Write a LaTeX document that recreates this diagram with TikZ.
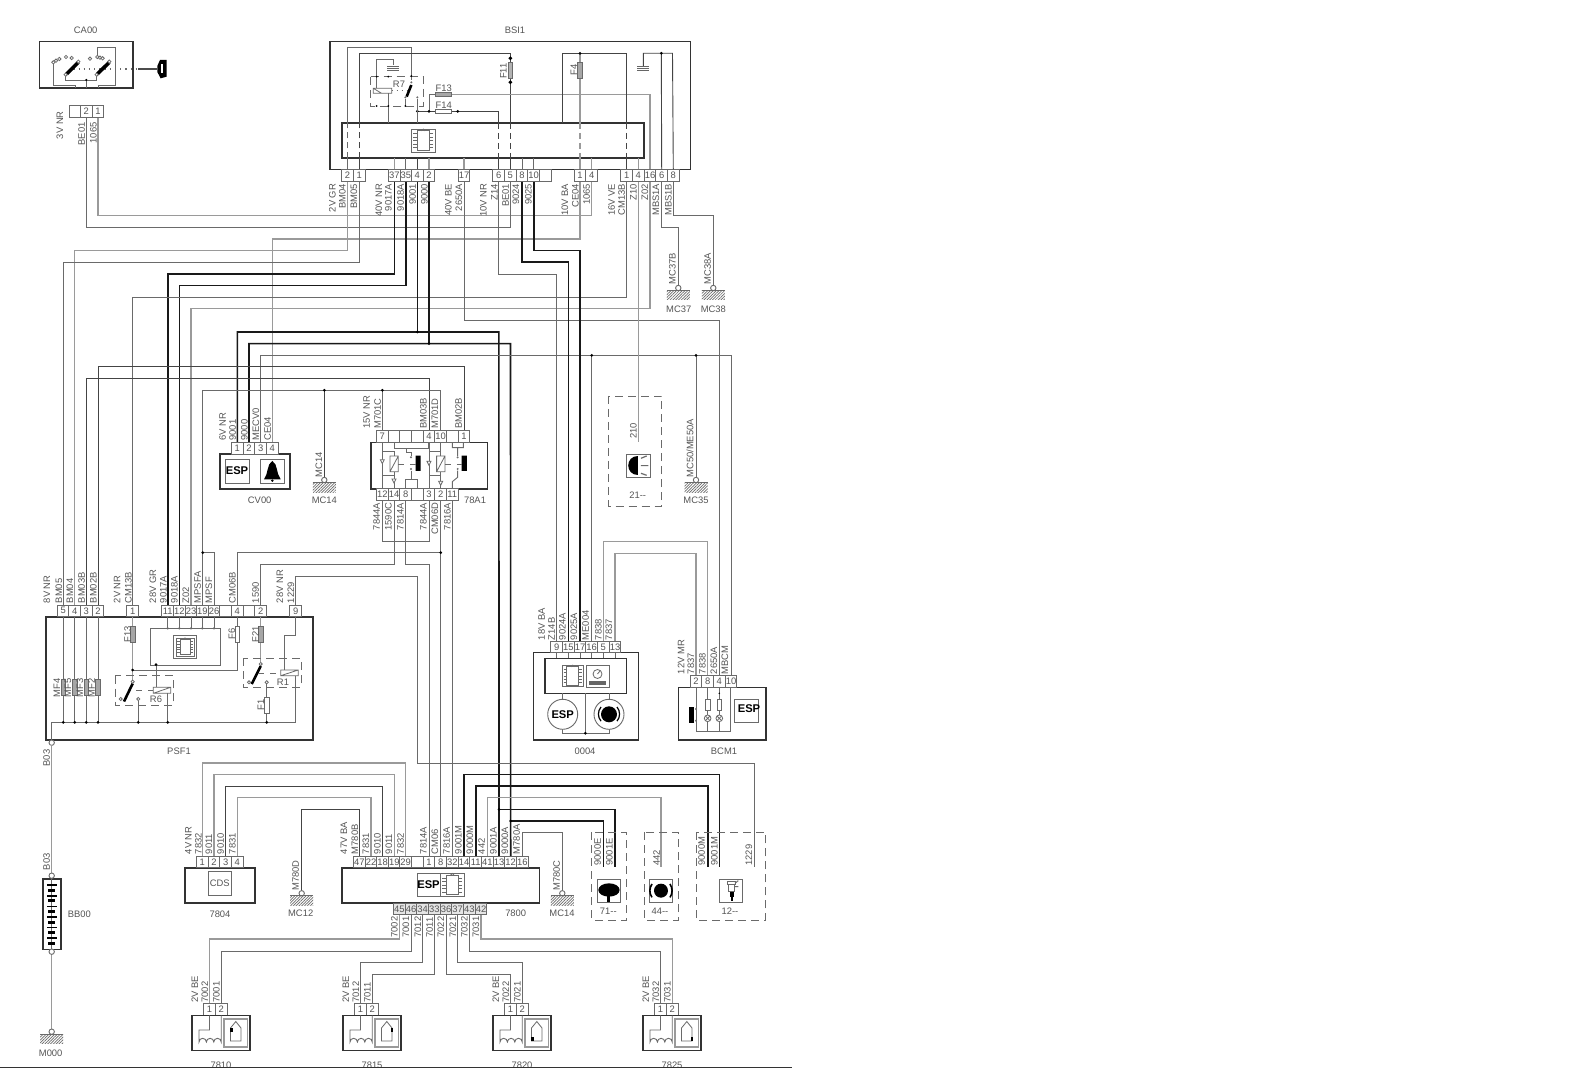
\documentclass[tikz,border=0pt]{standalone}
\usepackage{fontspec}
\setmainfont{Liberation Sans}
\usetikzlibrary{patterns.meta}
\definecolor{ink}{HTML}{555555}
\definecolor{wl}{HTML}{9A9A9A}
\definecolor{wm}{HTML}{6A6A6A}
\definecolor{wn}{HTML}{444444}
\definecolor{boxc}{HTML}{333333}
\newcount\labn
\tikzset{
 txt/.style={font=\fontsize{4.7}{5}\selectfont,text=ink,inner sep=0pt},
 pin/.style={draw=wm,line width=.4pt,fill=white,minimum width=5.83pt,minimum height=5.8pt,inner sep=0pt,font=\fontsize{4.7}{5}\selectfont,text=ink},
 pinb/.style={pin,fill=black!10},
 wg/.style={draw=wl,line width=.6pt},
 wd/.style={draw=wm,line width=.45pt},
 wn/.style={draw=wn,line width=.45pt},
 wk/.style={draw=black!90,line width=.8pt},
 comp/.style={draw=wm,line width=.4pt},
 boxs/.style={draw=boxc,line width=.8pt},
 dashb/.style={draw=wm,line width=.45pt,dash pattern=on 4pt off 2.5pt},
 hid/.style={dash pattern=on 3pt off 2pt},
 fuse/.style={draw=wm,line width=.4pt,fill=black!35},
}
\newcommand\lb[3]{\global\advance\labn by 1 \node[txt,rotate=90,anchor=west] (lab\the\labn) at (#1,#2) {#3};}
\newcommand\lt[3]{\global\advance\labn by 1 \node[txt,rotate=90,anchor=east] (lab\the\labn) at (#1,#2) {#3};}
\newcommand\lh[3]{\global\advance\labn by 1 \node[txt] (lab\the\labn) at (#1,#2) {#3};}
\newcommand\pinrow[2]{\foreach \n/\x/\t in {#2} {\node[pin] (\n) at (\x,#1) {\t};}}
\newcommand\pinrowb[2]{\foreach \n/\x/\t in {#2} {\node[pinb] (\n) at (\x,#1) {\t};}}
\newcommand\jn[1]{\foreach \a/\b in {#1} {\fill[black] (\a,\b) circle (1.5);}}
\newcommand\gnd[2]{\draw[wd,fill=white] (#1,#2) circle (2.7);
 \fill[pattern={Lines[angle=45,distance=1pt,line width=.35pt]},pattern color=wm] (#1-11.5,#2+2.5) rectangle (#1+11.5,#2+12);
 \draw[wm,line width=.5pt] (#1-11.5,#2+2.5) -- (#1+11.5,#2+2.5);}
\newcommand\minignd[1]{\fill[black!60] (#1-6,66) rectangle (#1+6,72.5);
 \foreach \k in {67.5,69.5,71.5} {\draw[white,line width=.25pt] (#1-6,\k) -- (#1+6,\k);}}
\newcommand\chipicon[3]{\begin{scope}[shift={(#1,#2)}]
 \draw[comp] (-#3,-#3) rectangle (#3,#3);
 \draw[comp] (-.55*#3,-.85*#3) rectangle (.55*#3,.85*#3);
 \foreach \k in {-.6,-.3,0,.3,.6} {\draw[comp,line width=.3pt] (-.85*#3,\k*#3) -- (-.55*#3,\k*#3) (.85*#3,\k*#3) -- (.55*#3,\k*#3);}
 \draw[comp] (-.15*#3,-.85*#3) arc[start angle=180,end angle=360,radius=.15*#3];
\end{scope}}
\newcommand\esp[2]{\global\advance\labn by 1 \node[inner sep=0pt,font=\fontsize{5.6}{6}\selectfont\bfseries,text=black] (lab\the\labn) at (#1,#2) {ESP};}
\newcommand\coilrect[4]{\draw[comp] (#1,#2) rectangle (#3,#4) (#1,#4) -- (#3,#2);}
\newcommand\ctc[2]{\draw[wd,fill=white,line width=.4pt] (#1,#2) circle (1.6);}
\newcommand\wheel[3]{\begin{scope}[shift={(#1,0)}]
 \draw[boxs,line width=.7pt] (0,1015.3) rectangle (58,1050.5);
 \draw[wl,line width=.8pt] (32,1018.7) rectangle (55.5,1047);
 \draw[comp] (38.5,1041) -- (38.5,1028) -- (43.8,1021.5) -- (49,1028) -- (49,1041) -- cycle;
 \fill[black] (#2,#3) rectangle (#2+2.5,#3+4);
 \draw[wd] (17.5,1015.3) -- (17.5,1030) -- (7,1030) -- (7,1042) arc[start angle=180,end angle=360,radius=3.7] arc[start angle=180,end angle=360,radius=3.7] arc[start angle=180,end angle=360,radius=3.7] -- (29.2,1015.3);
\end{scope}}
\begin{document}
\begin{tikzpicture}[x=.5pt,y=-.5pt]
\useasboundingbox (0,0) rectangle (1574,1069);
\fill[white] (0,0) rectangle (1574,1069);
% ---------- component boxes
\node[boxs,minimum width=46.7pt,minimum height=23.2pt,inner sep=0pt] (CAbox) at (86.25,64.9) {};
\node[boxs,minimum width=180.3pt,minimum height=64pt,inner sep=0pt] (BSIbox) at (510.35,105.7) {};
\node[boxs,minimum width=151pt,minimum height=17.65pt,inner sep=0pt] (BSIin) at (492.7,140.65) {};
\node[boxs,minimum width=133.65pt,minimum height=61.65pt,inner sep=0pt] (PSFbox) at (179.35,678.35) {};
\node[boxs,minimum width=35.15pt,minimum height=17.5pt,inner sep=0pt] (CVbox) at (254.85,471.5) {};
\node[boxs,minimum width=58.15pt,minimum height=23.15pt,inner sep=0pt] (RLbox) at (429.15,465.85) {};
\node[boxs,minimum width=52.5pt,minimum height=43.85pt,inner sep=0pt] (OBbox) at (585.8,696.15) {};
\node[boxs,minimum width=43.7pt,minimum height=26.35pt,inner sep=0pt] (BCbox) at (722,713.65) {};
\node[boxs,minimum width=34.85pt,minimum height=17.5pt,inner sep=0pt] (CDbox) at (219.85,885.2) {};
\node[boxs,minimum width=98.8pt,minimum height=17.5pt,inner sep=0pt] (ESPbox) at (440.5,885.2) {};
\node[boxs,minimum width=9pt,minimum height=35.15pt,inner sep=0pt] (BBbox) at (51.7,914.15) {};
% ---------- pins
\pinrow{111.4}{ca3/75/{},ca2/86.3/2,ca1/98/1}
\pinrow{175.7}{bA2/347.5/2,bA1/359.2/1,bB37/394.3/37,bB35/405.8/35,bB4/417.3/4,bB2/429/2,bC17/464/17,bD6/498.7/6,bD5/510.3/5,bD8/522/8,bD10/533.7/10,bDx/545.3/{},bE1/580/1,bE4/591.7/4,bF1/626.7/1,bF4/638.3/4,bF16/650/16,bF6/661.7/6,bF8/673.3/8}
\pinrow{610.8}{pA5/63.3/5,pA4/74.7/4,pA3/86.3/3,pA2/98/2,pB1/132.7/1,pC11/167.7/11,pC12/179.3/12,pC23/191/23,pC19/202.3/19,pC26/214/26,pCx/225.7/{},pC4/237.3/4,pCy/249/{},pC2/260.7/2,pD9/295.7/9}
\pinrow{448.2}{cv1/237.3/1,cv2/249/2,cv3/260.7/3,cv4/272.3/4}
\pinrow{436.7}{t7/382.3/7,ta/394/{},tb/405.7/{},tc/417.3/{},t4/429/4,t10/440.7/10,td/452.3/{},t1/464/1}
\pinrow{494.6}{u12/382.3/12,u14/394/14,u8/405.7/8,ux/417.3/{},u3/429/3,u2/440.7/2,u11/452.3/11}
\pinrow{647}{o9/556.7/9,o15/568.3/15,o17/580/17,o16/591.7/16,o5/603.3/5,o13/615/13}
\pinrow{681.5}{b2/696/2,b8/707.7/8,b4/719.3/4,b10/731/10}
\pinrow{862}{c1/202.3/1,c2/214/2,c3/225.7/3,c4/237.3/4}
\pinrow{862}{e47/359.3/47,e22/371/22,e18/382.7/18,e19/394.3/19,e29/405.7/29,ey/417.3/{},e1/429/1,e8/440.7/8,e32/452.3/32,e14/464/14,e11/475.7/11,e41/487.3/41,e13/499/13,e12/510.7/12,e16/522.3/16}
\pinrowb{909}{f45/399.3/45,f46/411/46,f34/422.7/34,f33/434.3/33,f36/446/36,f37/457.7/37,f43/469.3/43,f42/481/42}
\pinrow{1009.5}{sa1/209.5/1,sa2/221.2/2,sb1/360.5/1,sb2/372.2/2,sc1/510.5/1,sc2/522.2/2,sd1/660.5/1,sd2/672.2/2}
% ---------- free-end coordinates
\coordinate (g37) at (678.3,288); \coordinate (g38) at (713.3,288);
\coordinate (g35) at (696,480); \coordinate (g14a) at (324.3,480);
\coordinate (g12) at (301.7,893.3); \coordinate (g14b) at (562.3,893.3);
% ---------- wires BSI to the rest
\draw[wg] (ca1.south) -- (98,215.5) -- (591.7,215.5) -- (bE4.south);
\draw[wd] (ca2.south) -- (86.3,227) -- (510.3,227) -- (bD5.south);
\draw[wg] (bE1.south) -- (580,239) -- (272.3,239) -- (cv4.north);
\draw[wg] (bA2.south) -- (347.5,250.7) -- (74.7,250.7) -- (pA4.north);
\draw[wd] (bA1.south) -- (359.2,262) -- (63.3,262) -- (pA5.north);
\draw[wk] (bB37.south) -- (394.3,274) -- (167.7,274) -- (pC11.north);
\draw[wk] (bB35.south) -- (405.8,285.7) -- (179.3,285.7) -- (pC12.north);
\draw[wd] (bF1.south) -- (626.7,297.3) -- (132.7,297.3) -- (pB1.north);
\draw[wg] (bF16.south) -- (650,308.7) -- (191,308.7) -- (pC23.north);
\draw[wd] (bC17.south) -- (464,320.3) -- (719.3,320.3) -- (b4.north);
\draw[wk] (cv1.north) -- (237.3,332) -- (498.9,332) -- (e13.north);
\draw[wk] (cv2.north) -- (249,343.7) -- (510.5,343.7) -- (e12.north);
\draw[wk] (bB4.south) -- (417.3,332);
\draw[wk] (bB2.south) -- (429,343.7);
\draw[wd] (cv3.north) -- (260.7,355.3) -- (731,355.3) -- (b10.north);
\draw[wd] (o16.north) -- (591.7,355.3);
\draw[wd] (g35) -- (696,355.3);
\draw[wn] (pA2.north) -- (98,366.7) -- (464,366.7) -- (t1.north);
\draw[wn] (pA3.north) -- (86.3,378.3) -- (429,378.3) -- (t4.north);
\draw[wd] (pC19.north) -- (202.3,390.3) -- (440.7,390.3) -- (t10.north);
\draw[wd] (t7.north) -- (382.3,390.3);
\draw[wn] (g14a) -- (324.3,390.3);
\draw[wd] (202.3,552.7) -- (214,552.7) -- (pC26.north);
\draw[wd] (pC4.north) -- (237.3,552.7) -- (440.7,552.7);
\draw[wd] (u2.south) -- (e8.north);
\draw[wd] (pC2.north) -- (260.7,564.3) -- (394,564.3) -- (u14.south);
\draw[wd] (u8.south) -- (405.7,564.3) -- (429,564.3) -- (e1.north);
\draw[wd] (u12.south) -- (382.3,541.7) -- (429,541.7) -- (u3.south);
\draw[wd] (u11.south) -- (e32.north);
\draw[wd] (pD9.north) -- (295.7,576.5) -- (417.5,576.5) -- (417.5,763) -- (754,763) -- (754,866.7);
\draw[wd] (bD6.south) -- (498.7,274) -- (556.7,274) -- (o9.north);
\draw[wk] (bD8.south) -- (522,262.3) -- (568.3,262.3) -- (o15.north);
\draw[wk] (bD10.south) -- (533.7,250.7) -- (580,250.7) -- (o17.north);
\draw[wg] (o5.north) -- (603.3,541.7) -- (707.7,541.7) -- (b8.north);
\draw[wg] (o13.north) -- (615,553.3) -- (696,553.3) -- (b2.north);
\draw[wd] (bF6.south) -- (661.7,227.3) -- (678.3,227.3) -- (g37);
\draw[wd] (bF8.south) -- (673.3,215.7) -- (713.3,215.7) -- (g38);
\draw[wg] (bF4.south) -- (638.3,441.7);
\draw[wg] (bF4.north) -- (638.3,158.3);
% ---------- wires 7800 / 7804
\draw[wn] (e47.north) -- (359.3,809.3) -- (301.7,809.3) -- (g12);
\draw[wg] (e22.north) -- (371,797.7) -- (237.3,797.7) -- (c4.north);
\draw[wn] (e18.north) -- (382.7,786) -- (225.7,786) -- (c3.north);
\draw[wg] (e19.north) -- (394.3,774.7) -- (214,774.7) -- (c2.north);
\draw[wg] (e29.north) -- (405.7,763) -- (202.3,763) -- (c1.north);
\draw[wk] (e14.north) -- (464,774.3) -- (719.3,774.3) -- (719.3,867);
\draw[wk] (e11.north) -- (475.7,786) -- (707.7,786) -- (707.7,867);
\draw[wg] (e41.north) -- (487.3,797.7) -- (661,797.7) -- (661,866.7);
\draw[wk,line width=.7pt] (499,809.3) -- (615,809.3) -- (615,866.7);
\draw[wk,line width=.7pt] (510.5,821) -- (603.3,821) -- (603.3,866.7);
\draw[wd] (e16.north) -- (522.3,832.3) -- (562.3,832.3) -- (g14b);
\draw[wg] (f45.south) -- (399.3,939) -- (209.5,939) -- (sa1.north);
\draw[wd] (f46.south) -- (411,951) -- (221.2,951) -- (sa2.north);
\draw[wd] (f34.south) -- (422.7,962.7) -- (360.5,962.7) -- (sb1.north);
\draw[wd] (f33.south) -- (434.3,974.5) -- (372.2,974.5) -- (sb2.north);
\draw[wd] (f36.south) -- (446,974.5) -- (510.5,974.5) -- (sc1.north);
\draw[wd] (f37.south) -- (457.7,962.7) -- (522.2,962.7) -- (sc2.north);
\draw[wd] (f43.south) -- (469.3,951) -- (660.5,951) -- (sd1.north);
\draw[wg] (f42.south) -- (481,939) -- (672.2,939) -- (sd2.north);
\jn{417.3/332,429/343.7,591.7/355.3,696/355.3,324.3/390.3,382.3/390.3,202.7/552.7,440.7/552.7,499/809.3,510.5/821}
% ---------- grounds
\gnd{678.3}{288} \gnd{713.3}{288} \gnd{696}{480} \gnd{324.3}{480} \gnd{301.7}{893.3} \gnd{562.3}{893.3}
% ---------- CA00
\begin{scope}[shift={(20,10)},scale=.3333]
\draw[wd] (165,235) -- (165,225) -- (100,225) -- (100,160);
\draw[wd] (199,235) -- (199,210);
\draw[wd] (137,195) -- (137,210) -- (230,210) -- (230,195);
\draw[wd] (234,235) -- (234,225) -- (287,225) -- (287,112) -- (233,112) -- (233,135);
\draw[wm,line width=.6pt,dotted] (160,177) -- (350,177);
\draw[black,line width=1.8pt] (140,192) -- (175,157);
\draw[black,line width=1.8pt] (232,192) -- (268,157);
\foreach \a/\b in {100/157,108/152,118/147,138/141,155/144,210/146,232/141,240/143,248/145,137/194,175/155,230/194,268/155} {\draw[wd,fill=white,line width=.4pt] (\a,\b) circle (5);}
\fill[black] (199,210) circle (3.5);
\draw[black!70,line width=1.3pt] (355,177) -- (410,177);
\fill[black] (412,168) -- (420,150) -- (440,150) -- (440,200) -- (422,205) -- (412,186) -- cycle;
\fill[white] (422,162) rectangle (430,190);
\end{scope}
% ---------- BSI internals
\draw[wd] (bA2.north) -- (347.5,158.3);
\draw[wd,hid] (347.5,158.3) -- (347.5,123);
\draw[wd] (347.5,123) -- (347.5,47.5) -- (411.3,47.5) -- (411.3,80);
\draw[wn] (bA1.north) -- (359.2,158.3);
\draw[wn,hid] (359.2,158.3) -- (359.2,123);
\draw[wn] (359.2,123) -- (359.2,53.3) -- (510.3,53.3) -- (510.3,62.7);
\draw[wn] (510.3,78.3) -- (510.3,123);
\draw[wn,hid] (510.3,123) -- (510.3,158.3);
\draw[wn] (510.3,158.3) -- (bD5.north);
\draw[wn] (417.3,111.3) -- (498.7,111.3) -- (498.7,123);
\draw[wn,hid] (498.7,123) -- (498.7,158.3);
\draw[wn] (498.7,158.3) -- (bD6.north);
\draw[wd] (429,111.3) -- (429,94.4) -- (435.7,94.4);
\draw[wg] (451.7,94.4) -- (650,94.4) -- (bF16.north);
\draw[wn] (562.7,123) -- (562.7,53.3) -- (626.7,53.3) -- (626.7,123);
\draw[wn,hid] (626.7,123) -- (626.7,158.3);
\draw[wn] (626.7,158.3) -- (bF1.north);
\draw[wg] (580,53.3) -- (580,123);
\draw[wg,hid] (580,123) -- (580,158.3);
\draw[wg] (580,158.3) -- (bE1.north);
\draw[wn] (643.3,66) -- (643.3,53.3) -- (672.5,53.3) -- (bF8.north);
\draw[wn] (661.3,53.3) -- (bF6.north);
\draw[wg] (bB37.north) -- (394.3,158.3);
\draw[wd] (bB35.north) -- (405.8,158.3);
\draw[wn] (bB4.north) -- (417.3,158.3);
\draw[wg] (bB2.north) -- (429,158.3);
\draw[wg] (bC17.north) -- (464,158.3);
\draw[wd] (bD8.north) -- (522,158.3);
\draw[wd] (bD10.north) -- (533.7,158.3);
\draw[wg] (bE4.north) -- (591.7,158.3);
\draw[fuse,fill=black!30] (508.3,62.7) rectangle (512.3,78.3);
\draw[fuse] (577.7,62.7) rectangle (582.3,78.3);
\draw[fuse] (435.7,92.7) rectangle (451.7,96.7);
\draw[fuse,fill=white] (435.7,109.3) rectangle (451.7,113.3);
\fill[black] (510.3,56.3) -- (512.3,58.3) -- (510.3,60.3) -- (508.3,58.3) -- cycle (510.3,80.3) -- (512.3,82.3) -- (510.3,84.3) -- (508.3,82.3) -- cycle;
\jn{580/53.3,661.3/53.3,417.3/111.3,429/111.3,457.7/111.3}
\minignd{643.3} \minignd{393.3}
\begin{scope}[shift={(340,30)},scale=.3333]
\draw[dashb] (92,140) -- (250,140) -- (250,228) -- (92,228) -- cycle;
\draw[wd] (110,175) -- (110,88) -- (160,88) -- (160,105);
\draw[comp] (100,175) rectangle (155,190) (100,175) -- (125,190);
\draw[wd] (145,190) -- (145,278);
\draw[wm,dotted,line width=.5pt] (155,183) -- (208,183);
\draw[wd] (196,207) -- (196,228);
\draw[wd] (232,207) -- (232,278);
\draw[black,line width=1.3pt] (214,165) -- (200,200);
\ctc{214}{157} \ctc{196}{202} \ctc{232}{202}
\foreach \a/\b in {110/140,145/140,214/138,110/228,145/228,196/228} {\fill[black] (\a,\b) circle (3);}
\end{scope}
\chipicon{423.3}{140.7}{11.6}
% ---------- CV00
\draw[comp] (225,459) rectangle (249,483);
\draw[comp] (260,459) rectangle (284,483);
\esp{237}{471}
\begin{scope}[shift={(190,360)},scale=.3333]
\fill[black] (247,303) .. controls (230,312) and (236,340) .. (222,358) -- (272,358) .. controls (258,340) and (264,312) .. (247,303);
\fill[black] (247,362) circle (4);
\end{scope}
% ---------- 78A1 internals
\begin{scope}[shift={(190,360)},scale=.3333]
\draw[wd] (577,248) -- (577,387) (577,275) -- (612,275) -- (612,288) (612,335) -- (612,345) -- (577,345) (612,345) -- (612,387);
\draw[wd] (612,248) -- (612,265) -- (715,265) -- (715,248) (650,265) -- (650,278) -- (663,278) -- (663,288);
\draw[wd] (663,332) -- (663,357) (647,387) -- (647,357) -- (682,357) -- (682,387);
\draw[wd] (717,248) -- (717,387) (717,275) -- (752,275) (752,248) -- (752,288) (752,335) -- (752,387) (752,345) -- (717,345);
\draw[wd] (787,248) -- (787,263) -- (820,263) -- (820,248) (803,263) -- (803,288) (803,332) -- (803,352) -- (787,365) -- (787,387);
\coilrect{600}{288}{625}{335} \coilrect{740}{288}{765}{335}
\fill[black] (677,287) rectangle (692,333) (815,287) rectangle (831,333);
\draw[wm,dashed,line width=.35pt] (625,312) -- (677,312) (765,312) -- (815,312);
\foreach \a/\b in {663/292,663/327,803/292,803/327} {\ctc{\a}{\b}}
\foreach \a/\b in {577/305,717/310,612/363,752/370} {\draw[wm,fill=white,line width=.4pt] (\a-6,\b-6) -- (\a+6,\b-6) -- (\a,\b+6) -- cycle;}
\end{scope}
% ---------- PSF1 internals
\foreach \q/\r in {pC11/167.7,pC12/179.3,pC23/191,pC19/202.3,pC26/214} {\draw[wd] (\q.south) -- (\r,628.3); \fill[wm] (\r,628.3) circle (1.3);}
\draw[comp] (150.3,628.3) rectangle (220,665);
\draw[comp] (173.3,635.7) rectangle (196.7,658.3);
\chipicon{185}{647}{9}
\draw[wg] (pB1.south) -- (132.7,681);
\draw[wd] (132.7,670) -- (237.3,670) -- (pC4.south);
\draw[wd] (156,665) -- (156,687.3);
\draw[wd] (167.7,693.3) -- (167.7,722.3);
\draw[wd] (138.3,701) -- (138.3,722.3);
\draw[wg] (pC2.south) -- (260.7,662);
\draw[wd] (266.7,684) -- (266.7,722.3);
\draw[wd] (pD9.south) -- (295.7,635) -- (284,635) -- (284,670);
\draw[wd] (295.7,675.7) -- (295.7,722.3) -- (51.7,722.3) -- (51.7,740);
\foreach \q/\r in {pA5/63.3,pA4/74.7,pA3/86.3,pA2/98} {\draw[wd] (\q.south) -- (\r,722.3); \draw[fuse] (\r-2.3,679.3) rectangle (\r+2.3,695.7);}
\draw[fuse] (130.5,626) rectangle (134.9,642.7);
\draw[fuse,fill=white] (235.1,626) rectangle (239.5,642.7);
\draw[fuse] (258.5,626) rectangle (262.9,642.7);
\draw[fuse,fill=white] (264.5,697.3) rectangle (268.9,713.3);
\draw[dashb] (115.3,675.7) rectangle (173.3,705);
\draw[dashb] (243.3,658.3) rectangle (301,687.3);
\coilrect{153.3}{687.3}{170.7}{693.3}
\coilrect{280.7}{670}{298.3}{675.7}
\draw[black,line width=1.3pt] (132.7,683.5) -- (124,701.5);
\draw[black,line width=1.3pt] (260.7,666) -- (251.7,684);
\draw[wm,dashed,line width=.4pt] (136,690.7) -- (153.3,690.7) (258,673) -- (280.7,673);
\ctc{132.7}{681.7}\ctc{120.7}{699}\ctc{138.3}{699}\ctc{260.7}{664}\ctc{249}{682.3}\ctc{266.7}{682.3}
\jn{132.7/670,156/664.5,63.3/722.3,74.7/722.3,86.3/722.3,98/722.3,138.3/722.3,167.7/722.3,266.7/722.3}
\draw[wd,fill=white] (51.7,742.7) circle (2.7);
% ---------- B03 / battery / M000
\draw[wg] (51.7,745.4) -- (51.7,873);
\draw[wg] (51.7,954.4) -- (51.7,1029);
\draw[wd,fill=white] (51.7,875.7) circle (2.7);
\draw[wd,fill=white] (51.7,951.7) circle (2.7);
\draw[wd] (51.7,879) -- (51.7,949);
\foreach \k in {0,...,5} {\fill[black] (46.7,884.3+\k*10.6) rectangle (56.7,885.9+\k*10.6); \fill[black] (48.3,888.7+\k*10.6) rectangle (55,891.7+\k*10.6);}
\gnd{51.7}{1031.7}
% ---------- 0004 internals
\foreach \q/\r in {o9/556.7,o15/568.3,o17/580,o16/591.7,o5/603.3,o13/615} {\draw[wd] (\q.south) -- (\r,658.3);}
\draw[boxs,line width=.7pt] (545,658.3) rectangle (626.7,693.3);
\chipicon{572.8}{676}{10.8}
\draw[comp] (586,665) rectangle (609,687.3);
\draw[comp] (597.5,674) circle (4.5);
\draw[wm,line width=.4pt] (597.5,674) -- (600,671);
\fill[black!60] (589,681) rectangle (606,685);
\draw[wd] (562.3,693.3) -- (562.3,733.3) -- (609,733.3) -- (609,693.3);
\draw[wd] (585.3,693.3) -- (585.3,733.3);
\draw[wd,fill=white] (562.7,714.3) circle (15);
\esp{562.7}{714.3}
\draw[wd,fill=white] (609,714.3) circle (15);
\fill[black] (609,714.3) circle (8);
\draw[black,line width=.6pt] (601,707) arc[start angle=220,end angle=140,radius=11] (617,707) arc[start angle=-40,end angle=40,radius=11];
\jn{585.3/733.3}
% ---------- BCM1 internals
\begin{scope}[shift={(510,530)},scale=.3333]
\draw[wd] (558,472) -- (558,605) -- (662,605) -- (662,472);
\draw[wd] (593,472) -- (593,605) (628,472) -- (628,605);
\draw[comp,fill=white] (586,508) rectangle (600,540) (621,508) rectangle (635,540);
\draw[comp,fill=white] (593,565) circle (10) (628,565) circle (10);
\draw[comp] (586,558) -- (600,572) (586,572) -- (600,558) (621,558) -- (635,572) (621,572) -- (635,558);
\fill[black] (538,530) rectangle (553,578);
\ctc{558}{537}\ctc{558}{572}
\draw[comp] (673,508) rectangle (745,577);
\fill[black] (628,490) circle (2.5);
\end{scope}
\esp{749}{709}
% ---------- 7804 / 7800 internals
\draw[comp] (208,871.7) rectangle (231.7,895);
\lh{219.8}{883.5}{CDS}
\draw[comp] (417.3,873.3) rectangle (464,896.7);
\esp{428.5}{885}
\chipicon{452.3}{885}{11.6}
% ---------- dashed modules
\draw[dashb] (608.7,396) rectangle (661.7,506);
\draw[comp] (626.7,454.3) rectangle (650,477.3);
\begin{scope}[shift={(380,200)},scale=.3333]
\fill[black] (775,768) .. controls (735,768) and (735,825) .. (775,825) -- cycle;
\draw[wm,line width=.6pt] (783,775) -- (800,768) (783,797) -- (805,797) (783,820) -- (800,826);
\end{scope}
\draw[dashb] (591.7,832.3) rectangle (626.7,920);
\draw[dashb] (644,832.3) rectangle (678.3,920);
\draw[dashb] (696,832.3) rectangle (765.7,920);
\draw[comp] (597.3,879.3) rectangle (620.7,902.7);
\draw[comp] (649.3,879.3) rectangle (672.7,902.7);
\draw[comp] (719.3,879.3) rectangle (742.7,902.7);
\begin{scope}[shift={(430,750)},scale=.3333]
\fill[black] (537,420) ellipse (32 and 20);
\fill[black] (531,438) rectangle (540,455);
\fill[black] (693,422) circle (21);
\draw[black,line width=.8pt] (666,402) arc[start angle=215,end angle=145,radius=35] (720,402) arc[start angle=-35,end angle=35,radius=35];
\draw[wm,line width=.5pt] (893,396) rectangle (918,405) (896,405) rectangle (915,425);
\fill[black] (900,425) rectangle (911,440);
\fill[black] (903,440) rectangle (908,452);
\draw[wm,line width=.5pt] (915,400) -- (925,392) (915,410) -- (925,410);
\end{scope}
% ---------- wheel sensors
\wheel{192}{38}{1028}
\wheel{343}{47.5}{1028}
\wheel{493}{38}{1037}
\wheel{643}{47.5}{1037}
% ---------- text labels
\lh{85.7}{30}{CA00} \lh{515}{30}{BSI1}
\lt{60}{111}{3V NR} \lt{81.7}{122}{BE01} \lt{93.3}{122}{1065}
\lh{399}{84}{R7} \lh{443.7}{88.3}{F13} \lh{443.7}{105.7}{F14}
\node[txt,rotate=90] (labF11) at (503.5,71) {F11};
\node[txt,rotate=90] (labF4) at (574,70) {F4};
\foreach \x/\t in {332.3/2V GR,342.3/BM04,354/BM05,379/40V NR,388.3/9017A,400.7/9018A,412.7/9001,424.3/9000,448.3/40V BE,459/2650A,483.3/10V NR,494.3/Z14,505.7/BE01,516/9024,528.3/9025,565/10V BA,575.3/CE04,586.7/1065,611.7/16V VE,621.7/CM13B,633.3/Z10,645/Z02,656/MBS1A,668.3/MBS1B} {\lt{\x}{183.5}{\t}}
\lb{672.3}{285}{MC37B} \lb{707.7}{285}{MC38A}
\lh{678.7}{309}{MC37} \lh{713.3}{309}{MC38}
\foreach \x/\t in {222.7/6V NR,232.7/9001,244.3/9000,256/MECV0,267.7/CE04} {\lb{\x}{441}{\t}}
\lh{259.7}{500.7}{CV00}
\lb{319}{478}{MC14} \lh{324.3}{500.7}{MC14}
\foreach \x/\t in {366.7/15V NR,377.7/M701C,423.3/BM03B,435/M701D,458.7/BM02B} {\lb{\x}{429}{\t}}
\foreach \x/\t in {376.7/7844A,388.3/1590C,400.3/7814A,423.3/7844A,435/CM06D,447.3/7816A} {\lt{\x}{502.5}{\t}}
\lh{475}{500.7}{78A1}
\node[txt,rotate=90] (lab210) at (633.3,431) {210};
\lh{637.7}{495}{21-{}-}
\lb{690}{478}{MC50/ME50A} \lh{696}{500.7}{MC35}
\foreach \x/\t in {47/8V NR,59/BM05,70/BM04,81.7/BM03B,93.3/BM02B,117/2V NR,128.3/CM13B,153/28V GR,163.3/9017A,174.3/9018A,186/Z02,197.7/MPSFA,209/MPSF,232.3/CM06B,255.7/1590,280/28V NR,291/1229} {\lb{\x}{603.5}{\t}}
\node[txt,rotate=90] (labpF13) at (127.7,634) {F13};
\node[txt,rotate=90] (labpF6) at (232,634) {F6};
\node[txt,rotate=90] (labpF21) at (255.5,634) {F21};
\node[txt,rotate=90] (labpF1) at (261,705) {F1};
\foreach \x/\t in {57/MF4,68/MF5,80/MF3,91.5/MF2} {\global\advance\labn by 1 \node[txt,rotate=90] (lab\the\labn) at (\x,688) {\t};}
\lh{156}{699.3}{R6} \lh{283}{682.7}{R1}
\lh{179}{751.7}{PSF1}
\node[txt,rotate=90] (labB1) at (46.7,758) {B03};
\node[txt,rotate=90] (labB2) at (46.7,861.7) {B03};
\lh{79.3}{914}{BB00} \lh{50.7}{1053.3}{M000}
\foreach \x/\t in {541.7/18V BA,551.7/Z14B,562.3/9024A,574/9025A,585.7/ME004,598.3/7838,609/7837} {\lb{\x}{640.5}{\t}}
\foreach \x/\t in {681/12V MR,691/7837,702.3/7838,714/2650A,725/MBCM} {\lb{\x}{674.5}{\t}}
\lh{585}{751.7}{0004} \lh{724}{751.7}{BCM1}
\foreach \x/\t in {188.3/4V NR,198.3/7832,209/9011,220.7/9010,232.3/7831,344/47V BA,355/M780B,366/7831,377.3/9010,389/9011,400.7/7832,423.3/7814A,435/CM06,446.7/7816A,458.3/9001M,470/9000M,481.7/442,493.3/9001A,505/9000A,516.7/M780A} {\lb{\x}{854.5}{\t}}
\lb{295.7}{891}{M780D} \lb{556.7}{891}{M780C}
\lh{220}{914}{7804} \lh{300.7}{913.3}{MC12} \lh{515.7}{913.3}{7800} \lh{562}{913.3}{MC14}
\lb{597.7}{866}{9000E} \lb{609.3}{866}{9001E} \lb{656.7}{866}{442} \lb{701.7}{866}{9000M} \lb{714.3}{866}{9001M} \lb{749}{866}{1229}
\lh{608.3}{911.7}{71-{}-} \lh{660}{911.7}{44-{}-} \lh{730}{911.7}{12-{}-}
\foreach \x/\t in {394.5/7002,406/7001,418/7012,429.7/7011,441/7022,453/7021,464.5/7032,476/7031} {\lb{\x}{938}{\t}}
\foreach \x/\t in {194.8/2V BE,204.8/7002,216.5/7001,345.8/2V BE,355.8/7012,367.5/7011,495.8/2V BE,505.8/7022,517.5/7021,645.8/2V BE,655.8/7032,667.5/7031} {\lb{\x}{1003}{\t}}
\foreach \x/\t in {221/7810,372/7815,522/7820,672/7825} {\lh{\x}{1065}{\t}}
% ---------- bottom edge of the sheet
\fill[white] (0,1068) rectangle (792,1069);
\draw[boxc,line width=.8pt] (0,1067.6) -- (792,1067.6);
\end{tikzpicture}
\end{document}
